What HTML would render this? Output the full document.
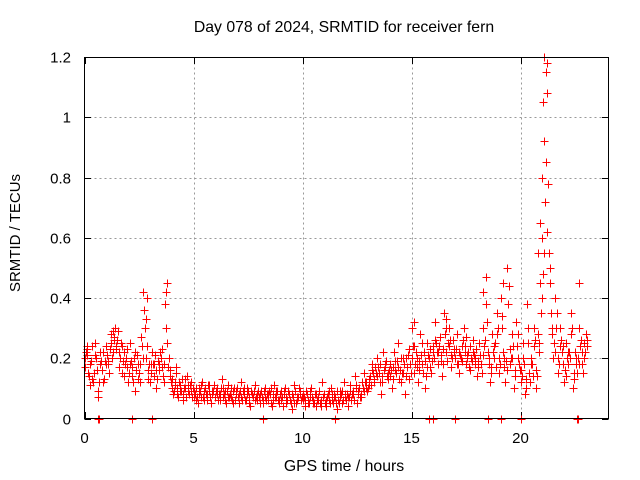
<!DOCTYPE html>
<html><head><meta charset="utf-8"><style>
html,body{margin:0;padding:0;background:#fff;}
svg{display:block;font-family:"Liberation Sans",sans-serif;}
</style></head><body>
<svg id="chart" width="640" height="480" viewBox="0 0 640 480" xmlns="http://www.w3.org/2000/svg">
<text x="344" y="32" font-size="15.8" text-anchor="middle">Day 078 of 2024, SRMTID for receiver fern</text>
<text transform="translate(20,233) rotate(-90)" font-size="15" text-anchor="middle">SRMTID / TECUs</text>
<text x="344" y="471" font-size="15.8" text-anchor="middle">GPS time / hours</text>
<g id="grid"></g>
<g id="ticks"></g>
<g id="marks"></g>
<rect x="84.5" y="57.5" width="524" height="361" fill="none" stroke="#000" stroke-width="1"/>
</svg>
<script>
const xTicks=[0,5,10,15,20];
const yTicks=[0,0.2,0.4,0.6,0.8,1.0,1.2];
const yTickLabels=["0","0.2","0.4","0.6","0.8","1","1.2"];
const startHour=0, stepHour=0.1;
const srmtid=[
.20,.23,.14,.19,.12,.25,.09,.22,.16,.13,
.24,.18,.28,.22,.30,.26,.17,.24,.14,.20,
.12,.25,.17,.09,.21,.15,.27,.42,.33,.16,
.12,.22,.18,.10,.16,.20,.14,.38,.45,.16,
.13,.09,.15,.07,.11,.06,.10,.14,.08,.12,
.07,.10,.05,.09,.12,.06,.08,.11,.05,.09,
.07,.10,.06,.13,.08,.05,.11,.07,.09,.06,
.10,.05,.12,.08,.06,.09,.04,.08,.11,.06,
.07,.09,.05,.10,.06,.08,.04,.11,.07,.05,
.09,.04,.10,.06,.08,.03,.11,.05,.07,.09,
.06,.04,.08,.05,.10,.06,.04,.07,.05,.12,
.08,.04,.06,.10,.05,.07,.03,.09,.05,.12,
.06,.04,.11,.08,.14,.05,.10,.07,.15,.12,
.10,.14,.18,.12,.20,.15,.08,.22,.17,.13,
.18,.10,.22,.15,.25,.12,.20,.08,.17,.23,
.30,.15,.22,.12,.28,.18,.10,.25,.20,.15,
.24,.32,.18,.27,.14,.35,.22,.30,.17,.26,
.20,.28,.15,.24,.30,.18,.22,.16,.26,.20,
.14,.25,.18,.30,.47,.22,.12,.28,.20,.35,
.15,.40,.22,.12,.50,.18,.28,.10,.32,.20,
.12,.25,.08,.38,.15,.20,.30,.10,.28,.45,
.60,.92,1.18,.55,.35,.20,.40,.15,.30,.22,
.12,.25,.18,.35,.10,.22,.15,.30,.18,.25,
.28];
const srmtidB=[
.17,.21,.11,.24,.15,.20,.07,.18,.12,.19,
.21,.15,.25,.27,.23,.29,.20,.15,.22,.17,
.15,.19,.12,.22,.13,.18,.24,.36,.20,.13,
.15,.18,.21,.13,.18,.23,.12,.30,.17,.14,
.10,.12,.08,.12,.09,.08,.13,.09,.11,.07,
.09,.06,.08,.11,.07,.10,.06,.09,.08,.11,
.09,.06,.08,.10,.06,.09,.07,.10,.05,.08,
.07,.09,.06,.10,.08,.05,.09,.07,.06,.08,
.05,.07,.09,.06,.08,.10,.06,.07,.09,.06,
.06,.08,.05,.09,.06,.08,.05,.07,.10,.06,
.08,.06,.05,.09,.07,.05,.08,.06,.04,.07,
.05,.07,.09,.06,.08,.05,.06,.07,.09,.07,
.08,.07,.06,.09,.10,.08,.07,.12,.09,.10,
.13,.11,.15,.17,.14,.18,.12,.16,.19,.15,
.14,.17,.16,.19,.13,.20,.15,.14,.21,.18,
.20,.24,.17,.19,.21,.15,.19,.17,.23,.19,
.20,.25,.22,.19,.23,.28,.19,.24,.21,.22,
.23,.18,.21,.19,.24,.21,.17,.20,.22,.18,
.19,.21,.15,.24,.38,.18,.17,.22,.25,.28,
.20,.30,.17,.19,.38,.23,.20,.16,.24,.18,
.16,.20,.13,.30,.12,.18,.24,.16,.22,.35,
.48,.72,1.08,.45,.28,.25,.30,.20,.24,.18,
.16,.20,.22,.28,.15,.18,.20,.24,.22,.20,
.24];
const srmtidC=[
.22,.15,.18,.13,.21,.16,.12,.19,.22,.18,
.19,.23,.20,.26,.24,.22,.25,.19,.18,.23,
.18,.14,.20,.16,.18,.12,.20,.30,.24,.18,
.18,.14,.16,.19,.22,.17,.18,.25,.20,.12,
.08,.11,.10,.09,.13,.10,.07,.11,.09,.10,
.08,.07,.10,.07,.09,.08,.11,.07,.09,.07,
.08,.08,.10,.07,.09,.07,.08,.06,.10,.09,
.08,.07,.09,.06,.10,.07,.08,.09,.07,.09,
.08,.06,.07,.08,.09,.05,.08,.09,.06,.08,
.07,.09,.07,.08,.05,.07,.09,.06,.08,.07,
.07,.09,.06,.07,.05,.08,.06,.09,.06,.08,
.06,.08,.05,.08,.07,.09,.05,.08,.06,.08,
.07,.09,.08,.06,.11,.09,.08,.10,.12,.09,
.11,.16,.13,.15,.17,.12,.14,.18,.14,.16,
.16,.13,.19,.17,.16,.15,.18,.20,.13,.15,
.24,.18,.20,.16,.25,.22,.14,.21,.17,.22,
.26,.22,.24,.21,.18,.30,.25,.26,.20,.23,
.18,.22,.20,.26,.22,.20,.24,.19,.21,.23,
.17,.18,.21,.26,.32,.20,.15,.24,.17,.30,
.18,.34,.20,.16,.44,.20,.24,.14,.28,.16,
.14,.18,.10,.25,.18,.14,.26,.14,.25,.40,
.55,.85,.78,.50,.30,.22,.35,.18,.26,.24,
.14,.22,.20,.30,.13,.20,.18,.26,.15,.22,
.26];
const peakTimes=[21.0,21.05,21.1,21.15,21.08,20.9,21.2,20.8,18.3,19.2,22.7,2.85,3.75,15.1,1.3,0.1,16.6,17.5,13.5,4.2];
const peakValues=[.80,1.05,1.20,1.15,.92,.65,.62,.55,.42,.45,.45,.40,.42,.32,.29,.24,.33,.27,.15,.17];
const zeroTimes=[0.6,0.65,2.2,3.1,8.2,11.5,15.8,16.0,17.0,18.5,19.1,20.0,22.6,22.65];

const X0=84.5, XS=21.8, Y0=418.5, YS=301.25;
function sx(t){return X0+t*XS;}
function sy(v){return Y0-v*YS;}
const NS="http://www.w3.org/2000/svg";
const grid=document.getElementById('grid'), ticks=document.getElementById('ticks'), marks=document.getElementById('marks');
function line(g,x1,y1,x2,y2,st,dash){const l=document.createElementNS(NS,'line');l.setAttribute('x1',x1);l.setAttribute('y1',y1);l.setAttribute('x2',x2);l.setAttribute('y2',y2);l.setAttribute('stroke',st);if(dash)l.setAttribute('stroke-dasharray',dash);g.appendChild(l);return l;}
function txt(s,x,y,anchor){const t=document.createElementNS(NS,'text');t.setAttribute('x',x);t.setAttribute('y',y);t.setAttribute('font-size','15');t.setAttribute('text-anchor',anchor);t.textContent=s;ticks.appendChild(t);return t;}
xTicks.forEach(t=>{const x=Math.round(sx(t))+0.5;
 if(t>0){const g=line(grid,x,57.5,x,418.5,'#999','2,3');}
 line(ticks,x,418.5,x,412,'#000');line(ticks,x,57.5,x,64,'#000');
 const l=txt(String(t),sx(t),443,'middle');
 
 
});
yTicks.forEach((v,i)=>{const y=Math.round(sy(v))+0.5;
 if(v>0&&v<1.2){const g=line(grid,84.5,y,608.5,y,'#999','2,3');}
 line(ticks,84.5,y,91,y,'#000');line(ticks,608.5,y,602,y,'#000');
 const l=txt(yTickLabels[i],71,y+5,'end');
 
 
});
function plus(t,v){const x=Math.round(sx(t))+0.5,y=Math.round(sy(v))+0.5;const p=document.createElementNS(NS,'path');
 p.setAttribute('d',`M${x-4} ${y}H${x+4}M${x} ${y-4}V${y+4}`);
 p.setAttribute('stroke','#f00');p.setAttribute('stroke-width','1');
 p.setAttribute('shape-rendering','crispEdges');
 
 
 marks.appendChild(p);}
srmtid.forEach((v,i)=>plus(startHour+i*stepHour,v));
srmtidB.forEach((v,i)=>plus(startHour+i*stepHour+0.033,v));
srmtidC.forEach((v,i)=>plus(startHour+i*stepHour+0.066,v));
peakTimes.forEach((t,i)=>plus(t,peakValues[i]));
zeroTimes.forEach(t=>plus(t,0));
</script>
</body></html>
